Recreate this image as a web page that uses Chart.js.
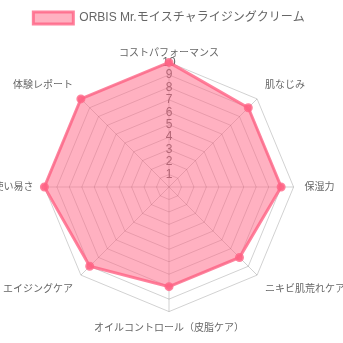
<!DOCTYPE html>
<html><head><meta charset="utf-8">
<script src="https://cdn.jsdelivr.net/npm/chart.js@4/dist/chart.umd.min.js"></script>
<style>html,body{margin:0;padding:0;background:#fff}#wrap{width:343px;height:343px}</style>
</head><body><div id="wrap"><canvas id="c"></canvas></div>
<script>
const categories = ["コストパフォーマンス","肌なじみ","保湿力","ニキビ肌荒れケア","オイルコントロール（皮脂ケア）","エイジングケア","使い易さ","体験レポート"];
const seriesName = "ORBIS Mr.モイスチャライジングクリーム";
const seriesValues = [10, 9, 9, 8, 8, 9, 10, 10];
const tickLabels = [1,2,3,4,5,6,7,8,9,10];

// Radial scale that gives less room to the point labels (older Chart.js fitting style)
const labelFitShare = 0.61;
class FitRadial extends Chart.RadialLinearScale {
  setCenterPoint(l, r, t, b) {
    super.setCenterPoint(0, 0, 0, 0);
    this.drawingArea -= Math.min(this.drawingArea / 2, labelFitShare * Math.max(l, r, t, b));
  }
}
FitRadial.id = 'fitRadial';
Chart.register(FitRadial);

Chart.defaults.font.family = "'Liberation Sans','Noto Sans CJK JP',sans-serif";
Chart.defaults.color = "#666";
new Chart(document.getElementById('c'), {
  type: 'radar',
  data: {
    labels: categories,
    datasets: [{
      label: seriesName,
      data: seriesValues,
      backgroundColor: 'rgba(255,99,132,0.5)',
      borderColor: 'rgba(255,99,132,0.8)',
      borderWidth: 3,
      pointBackgroundColor: 'rgba(255,99,132,0.8)',
      pointBorderColor: 'rgba(255,99,132,0.8)',
      pointRadius: 3
    }]
  },
  options: {
    responsive: true,
    maintainAspectRatio: false,
    animation: false,
    layout: { padding: { top: 2, bottom: 2, left: 0, right: 5 } },
    plugins: {
      legend: { labels: { boxWidth: 40, font: { size: 12 } } },
      tooltip: { enabled: false }
    },
    scales: {
      r: {
        type: 'fitRadial',
        min: 0, max: 10,
        ticks: {
          stepSize: 1,
          showLabelBackdrop: false,
          color: '#666',
          font: { size: 12 },
          callback: (v) => tickLabels.includes(v) ? String(v) : ''
        },
        grid: { color: 'rgba(0,0,0,0.18)' },
        angleLines: { color: 'rgba(0,0,0,0.18)' },
        pointLabels: {
          font: { size: 10 },
          color: '#666',
          padding: (ctx) => ctx.index === 0 ? -5 : 3
        }
      }
    }
  }
});
</script></body></html>
